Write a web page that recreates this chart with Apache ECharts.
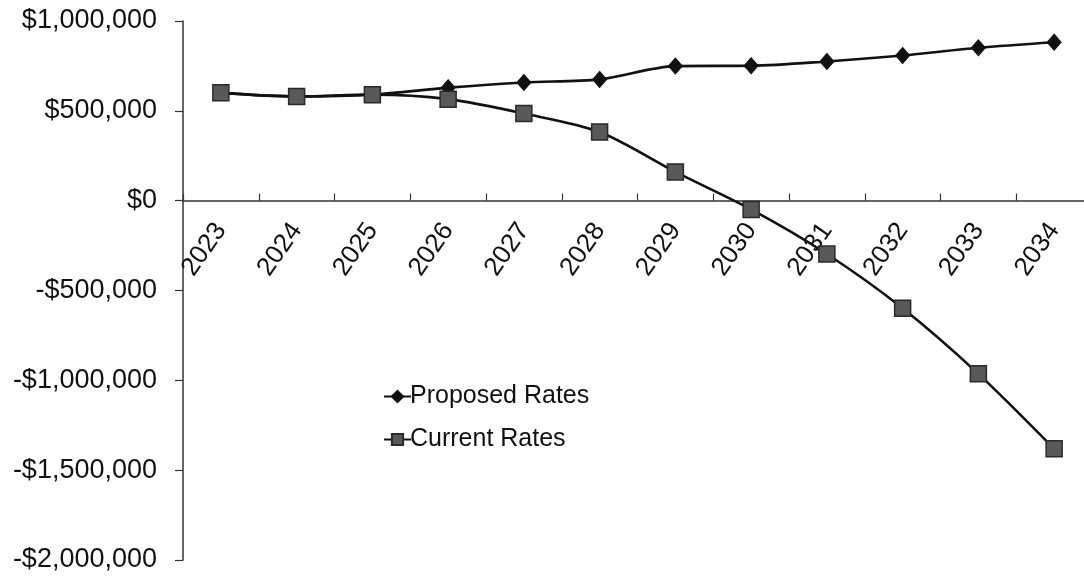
<!DOCTYPE html>
<html>
<head>
<meta charset="utf-8">
<script src="https://cdn.jsdelivr.net/npm/echarts@6/dist/echarts.min.js"></script>
<style>
  html, body { margin: 0; padding: 0; background: #fff; }
  #chart { width: 1084px; height: 577px; }
</style>
</head>
<body>
<div id="chart"></div>
<script>
// Years on the horizontal axis
const years = ['2023', '2024', '2025', '2026', '2027', '2028', '2029', '2030', '2031', '2032', '2033', '2034'];

// Projected balance under each rate scenario (USD)
const proposedRates = [600000, 580000, 590000, 629000, 658000, 675000, 749000, 751000, 775000, 808000, 851000, 882000];
const currentRates = [600000, 580000, 590000, 565000, 485000, 382000, 160000, -49000, -297000, -599000, -964000, -1381000];

// Value-axis range
const yMin = -2000000;
const yMax = 1000000;
const yStep = 500000;

const FONT = '"Liberation Sans", Arial, sans-serif';

function money(v) {
  const s = Math.abs(v).toLocaleString('en-US');
  return (v < 0 ? '-$' : '$') + s;
}

const chart = echarts.init(document.getElementById('chart'), null, { renderer: 'canvas' });

chart.setOption({
  backgroundColor: '#ffffff',
  animation: false,
  grid: { left: 183, right: -8, top: 21, bottom: 17, containLabel: false, outerBoundsMode: 'none' },
  legend: {
    orient: 'vertical',
    left: 378,
    top: 379,
    itemWidth: 27,
    itemHeight: 14,
    itemGap: 18,
    textStyle: { fontFamily: FONT, fontSize: 25, color: '#111', padding: [0, 0, 0, -6] },
    data: ['Proposed Rates', 'Current Rates']
  },
  xAxis: {
    type: 'category',
    data: years,
    boundaryGap: true,
    position: 'bottom',
    offset: 0,
    axisLine: { onZero: false, lineStyle: { color: '#333', width: 1.5 } },
    axisTick: { show: true, inside: true, length: 7, interval: 0, lineStyle: { color: '#333', width: 1.2 } },
    axisLabel: {
      interval: 0,
      rotate: 55,
      margin: 25,
      hideOverlap: false,
      fontFamily: FONT,
      fontSize: 26,
      color: '#111'
    },
    splitLine: { show: false }
  },
  yAxis: {
    type: 'value',
    min: yMin,
    max: yMax,
    interval: yStep,
    axisLine: { show: true, lineStyle: { color: '#333', width: 1.5 } },
    axisTick: { show: true, inside: false, length: 8, lineStyle: { color: '#333', width: 1.2 } },
    axisLabel: {
      margin: 26,
      fontFamily: FONT,
      fontSize: 27,
      color: '#111',
      formatter: money
    },
    splitLine: { show: false }
  },
  series: [
    {
      name: 'Proposed Rates',
      type: 'line',
      data: proposedRates,
      smooth: 0.3,
      symbol: 'diamond',
      symbolSize: [14, 16],
      showAllSymbol: true,
      lineStyle: { color: '#111', width: 2.6 },
      itemStyle: { color: '#111', borderColor: '#111', borderWidth: 1 }
    },
    {
      name: 'Current Rates',
      type: 'line',
      data: currentRates,
      smooth: 0.3,
      symbol: 'rect',
      symbolSize: 16,
      showAllSymbol: true,
      lineStyle: { color: '#111', width: 2.6 },
      itemStyle: { color: '#595959', borderColor: '#2a2a2a', borderWidth: 1.5 }
    }
  ]
});

// Lift the category axis (line, ticks and labels together) up to the $0 level.
const zeroY = chart.convertToPixel({ yAxisIndex: 0 }, 0);
const floorY = chart.convertToPixel({ yAxisIndex: 0 }, yMin);
chart.setOption({ xAxis: { offset: zeroY - floorY } });
</script>
</body>
</html>
